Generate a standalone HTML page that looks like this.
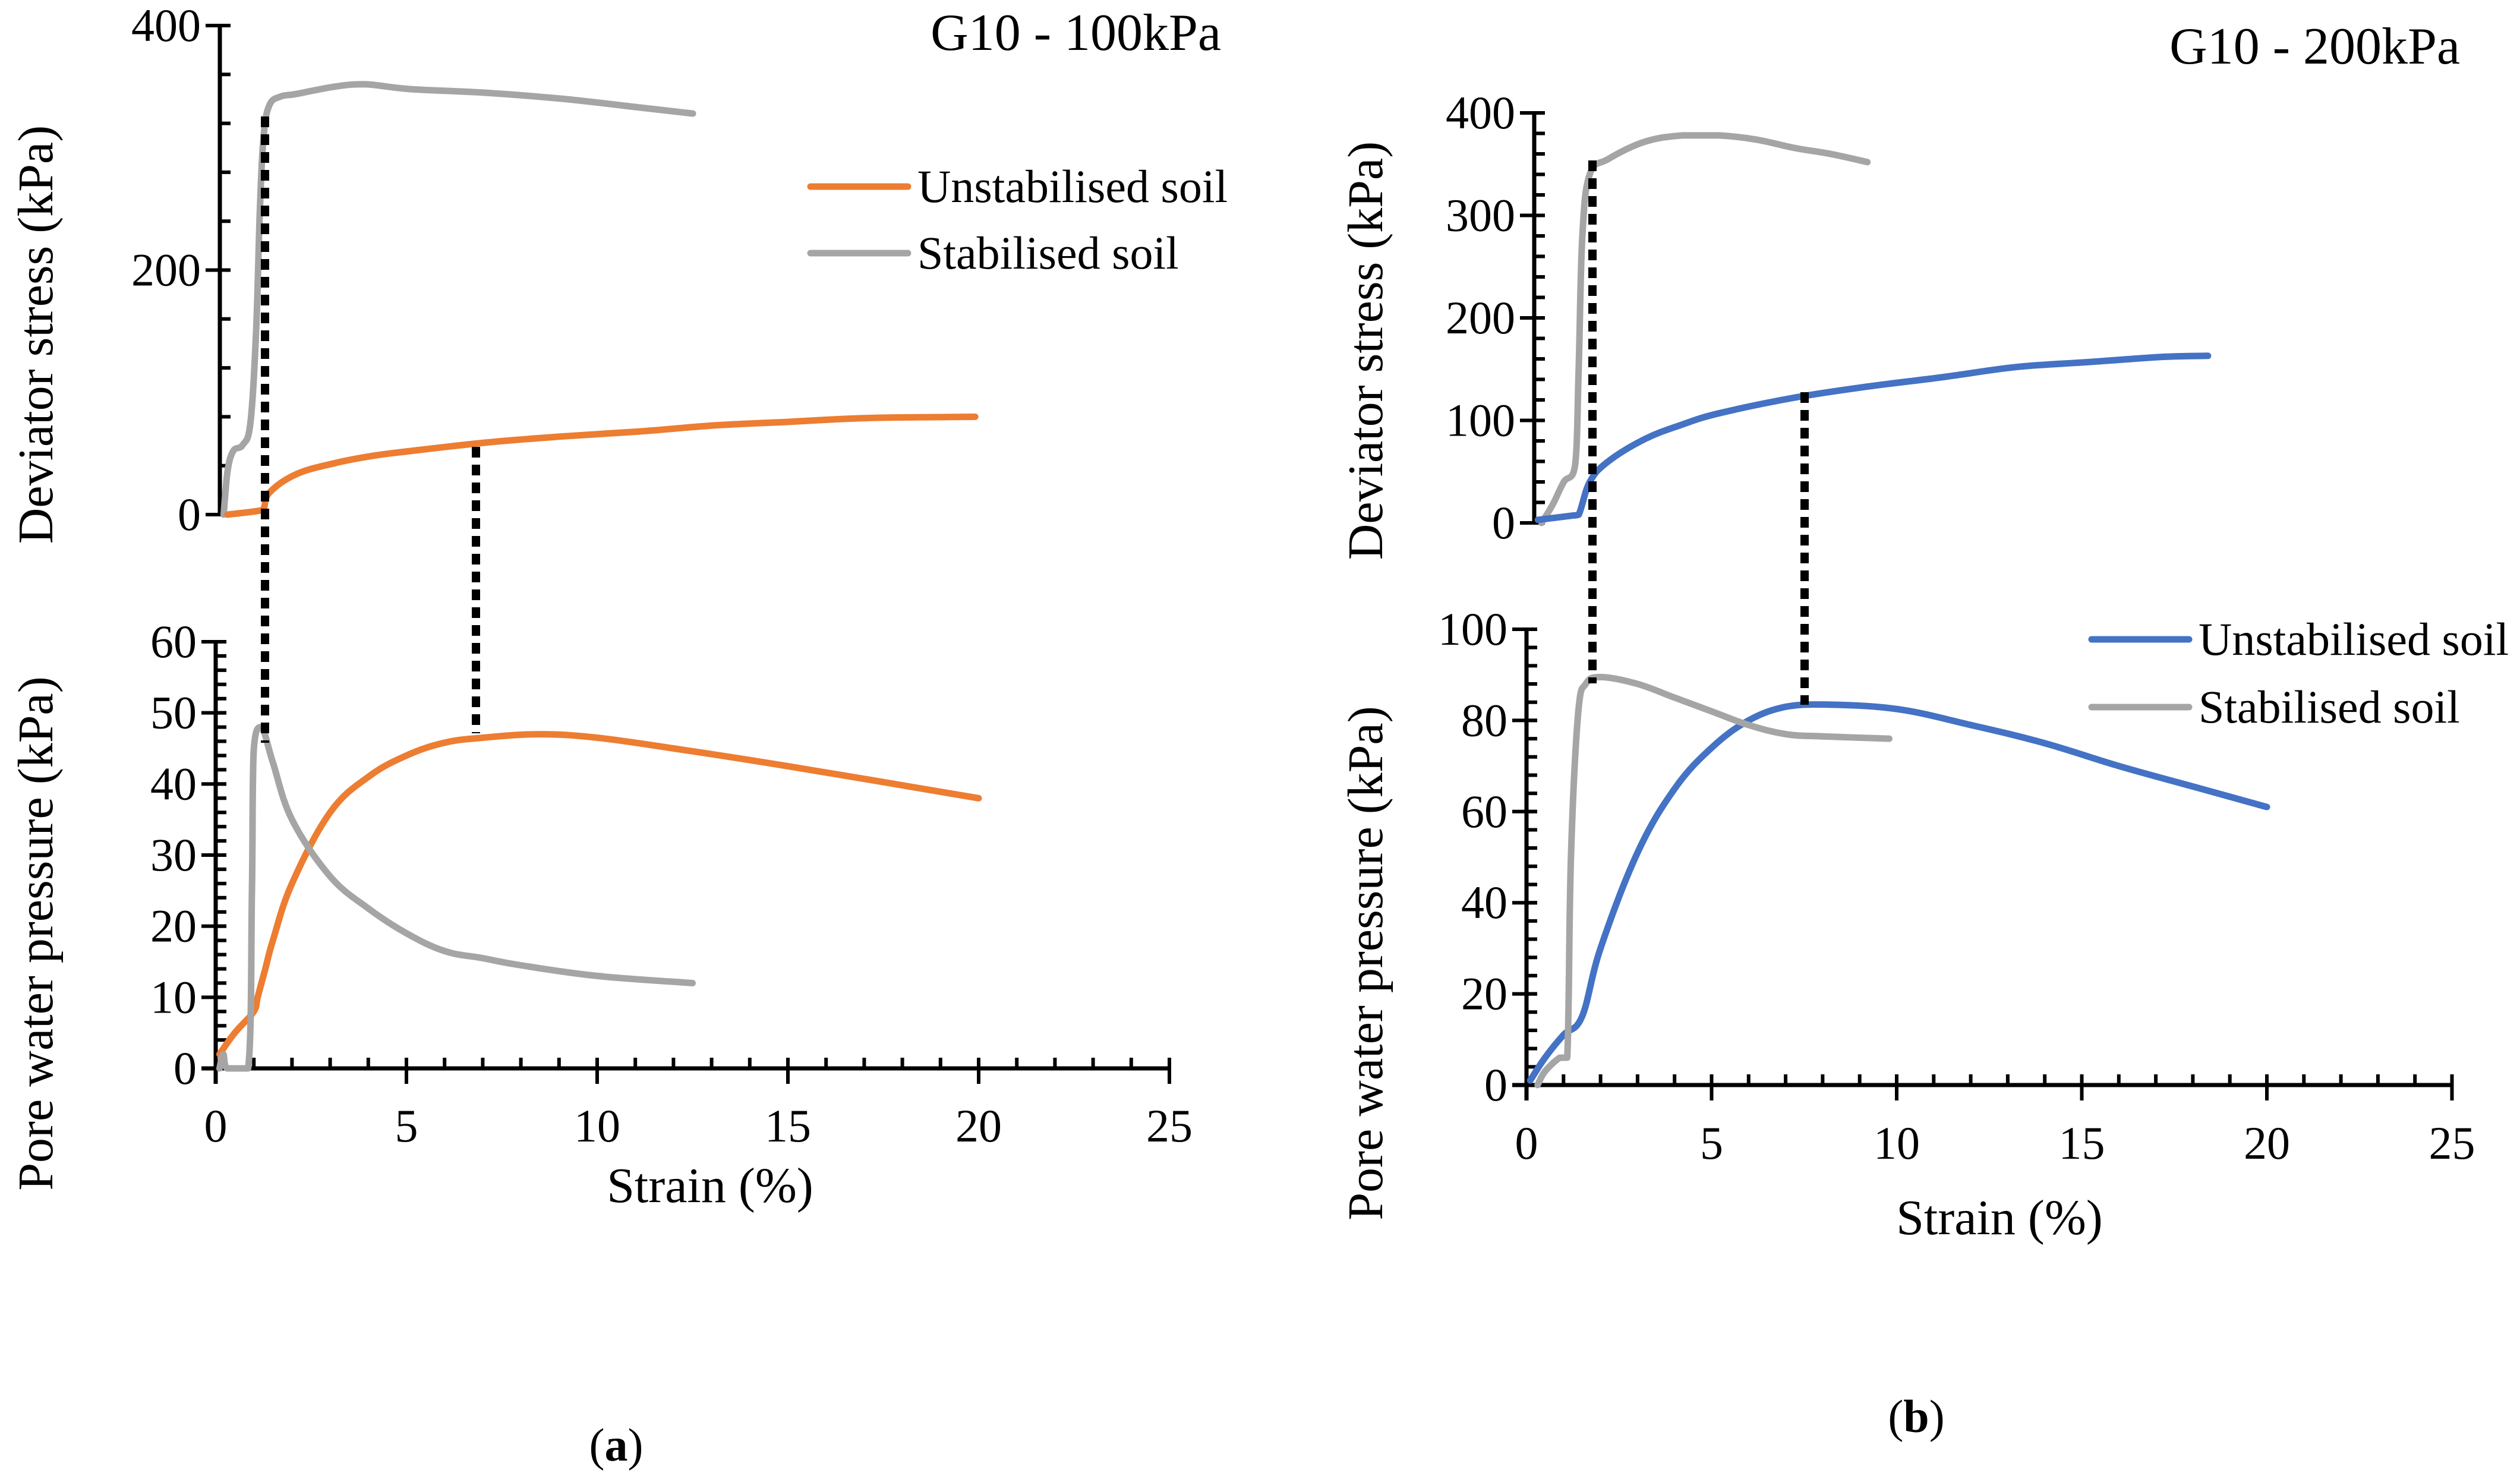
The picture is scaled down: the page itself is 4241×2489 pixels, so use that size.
<!DOCTYPE html>
<html><head><meta charset="utf-8"><style>
html,body{margin:0;padding:0;background:#fff;}
svg{display:block;font-family:"Liberation Serif","DejaVu Serif",serif;}
svg text{font-family:"Liberation Serif","DejaVu Serif",serif;}
</style></head><body>
<svg id="chart" width="4241" height="2489" viewBox="0 0 4241 2489" xmlns="http://www.w3.org/2000/svg" font-family="Liberation Serif, DejaVu Serif, serif">
<rect width="4241" height="2489" fill="#fff"/>
</svg>
<script>
// Panel (a) - G10 100kPa
const aDevStabX=[0.1,0.2,0.35,0.6,0.8,0.95,1.05,1.15,1.3,1.6,2,3,3.8,5,7,9,11,12.4];
const aDevStabY=[0,35,52,57,75,150,250,310,335,342,344,350,352,348,345,340,333,328];
const aDevUnX=[0.2,1,1.15,1.3,2,3,4,5,7,9,11,13,15,17,19.8];
const aDevUnY=[0,3,5,18,33,42,48,52,59,64,68,73,76,79,80];
const aPwpUnX=[0.1,0.5,1,1.1,1.3,1.5,2,3,4,5,6,7,8.5,10,12,15,20];
const aPwpUnY=[2,5,8,10,14,18,26,36,41,44,45.8,46.5,47,46.5,45,42.5,38];
const aPwpStabX=[0.1,0.2,0.3,0.85,0.95,1.0,1.2,1.5,2,3,4,5,6,7,8,10,12.5];
const aPwpStabY=[0,2,0,0,25,45,48,43,35,27,22.5,19,16.5,15.5,14.5,13,12];
// Panel (b) - G10 200kPa
const bDevUnX=[0.1,1,1.2,1.5,2,3,4,5,7,9,11,13,15,17,18.2];
const bDevUnY=[3,7,8,40,60,82,96,107,122,133,142,152,157,162,163];
const bDevStabX=[0.2,0.5,0.8,1.1,1.2,1.3,1.5,2,3,4,5,6,7,8,9];
const bDevStabY=[0,18,40,55,150,280,340,355,372,378,378,374,366,360,352];
const bPwpUnX=[0.1,0.5,1,1.5,2,3,4,5,6,7,8,10,12,14,16,18,20];
const bPwpUnY=[1,6,11,15,30,51,65,74,80,83,83.5,82.5,79,75,70,65.5,61];
const bPwpStabX=[0.3,0.5,0.9,1.1,1.2,1.4,1.6,2,3,4,5,6,7,8,9.8];
const bPwpStabY=[0,3,6,6,50,82,88,89.5,88,85,82,79,77,76.5,76];
const xTicks=[0,5,10,15,20,25];
const aDevTicks=[0,200,400];
const aPwpTicks=[0,10,20,30,40,50,60];
const bDevTicks=[0,100,200,300,400];
const bPwpTicks=[0,20,40,60,80,100];

const svg=document.getElementById('chart');
const NS='http://www.w3.org/2000/svg';
const FF='Liberation Serif, DejaVu Serif, serif';
function mk(tag,attrs,parent){const e=document.createElementNS(NS,tag);for(const k in attrs)e.setAttribute(k,attrs[k]);(parent||svg).appendChild(e);return e;}
function txt(s,attrs,name){attrs['font-family']=FF;const t=mk('text',attrs);t.textContent=s;


return t;}

function axis(o){
  const g=mk('g',{});
  
  
  const X=v=>o.x0+v*o.xs, Y=v=>o.y0-v*o.ys;
  mk('line',{x1:o.ax,y1:Y(o.yMax),x2:o.ax,y2:o.y0+(o.hasX?26:0),stroke:'#000','stroke-width':7},g);
  for(let v=0;v<=o.yMax+1e-9;v+=o.minor){mk('line',{x1:o.ax,y1:Y(v),x2:o.ax+18,y2:Y(v),stroke:'#000','stroke-width':6},g);}
  o.yTicks.forEach(v=>{mk('line',{x1:o.ax-24,y1:Y(v),x2:o.ax+18,y2:Y(v),stroke:'#000','stroke-width':6},g);
    const t=txt(String(v),{x:o.ax-32,y:Y(v)+26,'font-size':78,'text-anchor':'end'},'y-tick-label');g.appendChild(t);});
  if(o.hasX){
    mk('line',{x1:o.ax-24,y1:o.y0,x2:X(25),y2:o.y0,stroke:'#000','stroke-width':7},g);
    for(let v=1;v<=25;v++){mk('line',{x1:X(v),y1:o.y0,x2:X(v),y2:o.y0-18,stroke:'#000','stroke-width':6},g);}
    xTicks.forEach(v=>{mk('line',{x1:X(v),y1:o.y0-18,x2:X(v),y2:o.y0+26,stroke:'#000','stroke-width':6},g);
      const t=txt(String(v),{x:X(v),y:o.xLabY,'font-size':78,'text-anchor':'middle'},'x-tick-label');g.appendChild(t);});
  }
  return {X,Y};
}
function clamp(v,a,b){const lo=Math.min(a,b),hi=Math.max(a,b);return Math.max(lo,Math.min(hi,v));}
function series(ax,xs,ys,color,name){
  const P=xs.map((v,i)=>[ax.X(v),ax.Y(ys[i])]);
  let d='M'+P[0][0].toFixed(1)+','+P[0][1].toFixed(1);
  for(let i=0;i<P.length-1;i++){
    const p0=P[Math.max(0,i-1)],p1=P[i],p2=P[i+1],p3=P[Math.min(P.length-1,i+2)];
    const t=0.18;
    const c1=[clamp(p1[0]+(p2[0]-p0[0])*t,p1[0],p2[0]),clamp(p1[1]+(p2[1]-p0[1])*t,p1[1],p2[1])];
    const c2=[clamp(p2[0]-(p3[0]-p1[0])*t,p1[0],p2[0]),clamp(p2[1]-(p3[1]-p1[1])*t,p1[1],p2[1])];
    d+=' C'+c1[0].toFixed(1)+','+c1[1].toFixed(1)+' '+c2[0].toFixed(1)+','+c2[1].toFixed(1)+' '+p2[0].toFixed(1)+','+p2[1].toFixed(1);
  }
  const p=mk('path',{d:d,fill:'none',stroke:color,'stroke-width':11,'stroke-linejoin':'round','stroke-linecap':'round'});
  
  
}
function dotted(x,y1,y2,name){
  const l=mk('line',{x1:x,y1:y1,x2:x,y2:y2,stroke:'#000','stroke-width':14,'stroke-dasharray':'18 12'});
  
  
}
function legend(x,y,color,label,name){
  const l=mk('line',{x1:x,y1:y,x2:x+164,y2:y,stroke:color,'stroke-width':11,'stroke-linecap':'round'});
  
  
  txt(label,{x:x+180,y:y+26,'font-size':78},name);
}
const ORANGE='#ED7D31', GRAY='#A5A5A5', BLUE='#4472C4';

// Panel a
const aU=axis({name:'a-deviator-axis',ax:370,x0:370,xs:64.2,y0:866,ys:(866-43)/400,yMax:400,yTicks:aDevTicks,minor:40,hasX:false});
mk('line',{x1:346,y1:866,x2:370,y2:866,stroke:'#000','stroke-width':6});
const aL=axis({name:'a-pwp-axis',ax:363,x0:363,xs:64.2,y0:1798,ys:(1798-1080)/60,yMax:60,yTicks:aPwpTicks,minor:2,hasX:true,xLabY:1921});
series(aU,aDevStabX,aDevStabY,GRAY,'a-deviator-stabilised');
series(aU,aDevUnX,aDevUnY,ORANGE,'a-deviator-unstabilised');
series(aL,aPwpUnX,aPwpUnY,ORANGE,'a-pwp-unstabilised');
series(aL,aPwpStabX,aPwpStabY,GRAY,'a-pwp-stabilised');
dotted(446,196,1250,'a-dotted-peak-stabilised');
dotted(801,752,1234,'a-dotted-peak-unstabilised');
txt('G10 - 100kPa',{x:2055,y:84,'font-size':88,'text-anchor':'end'},'a-title');
legend(1364,314,ORANGE,'Unstabilised soil','a-legend-unstabilised');
legend(1364,426,GRAY,'Stabilised soil','a-legend-stabilised');
txt('Deviator stress (kPa)',{x:0,y:0,'font-size':84,'text-anchor':'middle',transform:'translate(88,563) rotate(-90)'},'a-deviator-y-title');
txt('Pore water pressure (kPa)',{x:0,y:0,'font-size':84,'text-anchor':'middle',transform:'translate(88,1571) rotate(-90)'},'a-pwp-y-title');
txt('Strain (%)',{x:1195,y:2023,'font-size':84,'text-anchor':'middle'},'a-x-title');
const la=txt('(',{x:1037,y:2458,'font-size':78,'text-anchor':'middle'},'a-caption');
la.innerHTML='(<tspan font-weight="bold">a</tspan>)';

// Panel b
const bU=axis({name:'b-deviator-axis',ax:2582,x0:2582,xs:62.3,y0:880,ys:(880-190)/400,yMax:400,yTicks:bDevTicks,minor:20,hasX:false});
mk('line',{x1:2558,y1:880,x2:2582,y2:880,stroke:'#000','stroke-width':6});
const bL=axis({name:'b-pwp-axis',ax:2569,x0:2569,xs:62.3,y0:1826,ys:(1826-1059)/100,yMax:100,yTicks:bPwpTicks,minor:4,hasX:true,xLabY:1950});
series(bU,bDevStabX,bDevStabY,GRAY,'b-deviator-stabilised');
series(bU,bDevUnX,bDevUnY,BLUE,'b-deviator-unstabilised');
series(bL,bPwpUnX,bPwpUnY,BLUE,'b-pwp-unstabilised');
series(bL,bPwpStabX,bPwpStabY,GRAY,'b-pwp-stabilised');
dotted(2680,270,1150,'b-dotted-peak-stabilised');
dotted(3037,660,1186,'b-dotted-peak-unstabilised');
txt('G10 - 200kPa',{x:4140,y:107,'font-size':88,'text-anchor':'end'},'b-title');
legend(3520,1076,BLUE,'Unstabilised soil','b-legend-unstabilised');
legend(3520,1190,GRAY,'Stabilised soil','b-legend-stabilised');
txt('Deviator stress (kPa)',{x:0,y:0,'font-size':84,'text-anchor':'middle',transform:'translate(2326,590) rotate(-90)'},'b-deviator-y-title');
txt('Pore water pressure (kPa)',{x:0,y:0,'font-size':84,'text-anchor':'middle',transform:'translate(2326,1621) rotate(-90)'},'b-pwp-y-title');
txt('Strain (%)',{x:3365,y:2077,'font-size':84,'text-anchor':'middle'},'b-x-title');
const lb=txt('(',{x:3225,y:2410,'font-size':78,'text-anchor':'middle'},'b-caption');
lb.innerHTML='(<tspan font-weight="bold">b</tspan>)';
</script>
</body></html>
